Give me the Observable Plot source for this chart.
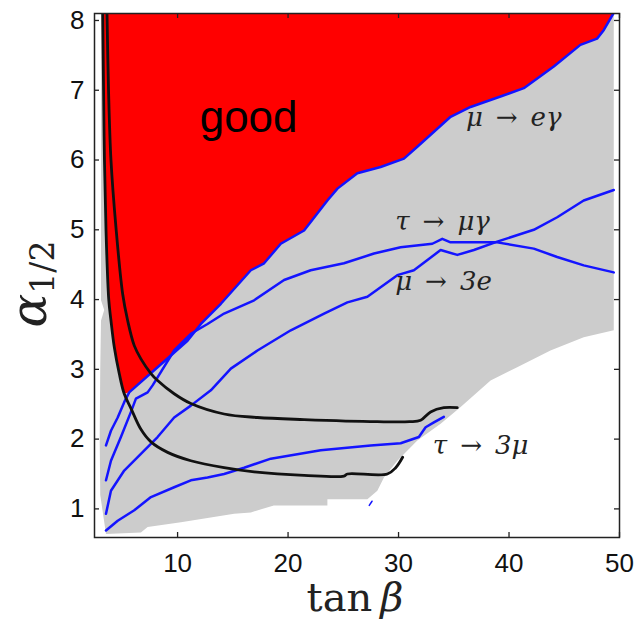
<!DOCTYPE html>
<html><head><meta charset="utf-8">
<script src="https://cdn.jsdelivr.net/npm/d3@7"></script>
<script src="https://cdn.jsdelivr.net/npm/@observablehq/plot@0.6"></script>
<style>
body{margin:0;background:#fff;}
#chart{width:636px;height:627px;}
</style>
</head><body><div id="chart"></div>
<script>
// tick values
const xTicks = [10, 20, 30, 40, 50];
const yTicks = [1, 2, 3, 4, 5, 6, 7, 8];

// [tanβ, α1/2] pairs
const muEGamma = [[3.52,1.91],[3.97,2.12],[4.58,2.31],[5.17,2.53],[5.62,2.67],[8.19,3.03],[10.90,3.41],[12.11,3.65],[13.92,3.94],[16.63,4.42],[17.83,4.52],[19.34,4.80],[21.45,4.99],[23.56,5.42],[24.47,5.59],[26.27,5.81],[28.38,5.90],[30.49,6.02],[31.70,6.19],[34.71,6.62],[36.52,6.76],[39.23,6.91],[41.34,7.03],[44.05,7.34],[46.46,7.65],[47.97,7.74],[48.57,7.86],[49.48,8.11]];
const tauMuGamma = [[3.52,1.41],[3.97,1.69],[4.87,2.03],[5.78,2.39],[6.23,2.58],[7.29,2.67],[7.74,2.77],[9.69,3.27],[11.20,3.51],[12.71,3.65],[14.21,3.80],[16.93,3.99],[19.64,4.28],[22.05,4.42],[25.06,4.52],[27.78,4.66],[30.19,4.75],[33.06,4.80],[33.96,4.87],[34.71,4.82],[38.93,4.82],[42.24,4.73],[44.36,4.61],[46.76,4.49],[49.48,4.39]];
const mu3e = [[3.52,0.93],[3.97,1.26],[5.17,1.55],[6.68,1.79],[8.19,2.03],[9.69,2.31],[11.20,2.48],[13.01,2.70],[14.82,3.01],[17.23,3.27],[20.25,3.56],[23.26,3.80],[25.37,3.96],[27.18,4.04],[29.89,4.35],[31.39,4.42],[33.81,4.71],[35.32,4.64],[36.82,4.71],[38.93,4.83],[42.24,5.00],[44.36,5.18],[46.76,5.42],[48.57,5.52],[49.48,5.57]];
const tau3mu = [[3.52,0.69],[4.58,0.83],[6.08,0.98],[7.59,1.17],[9.69,1.31],[11.20,1.41],[12.71,1.45],[14.21,1.50],[16.02,1.59],[18.44,1.72],[22.96,1.84],[27.48,1.91],[30.19,1.94],[31.84,2.03],[32.45,2.17],[33.20,2.24],[34.10,2.32]];
const tau3muBit = [[27.35,1.05],[27.6,1.11]];
const boundLow = [[3.22,8.11],[3.30,7.0],[3.38,6.0],[3.52,5.0],[3.77,4.0],[3.97,3.70],[4.27,3.32],[4.72,2.94],[5.17,2.65],[5.78,2.44],[6.68,2.14],[7.59,1.96],[9.10,1.81],[11.20,1.69],[14.21,1.59],[16.93,1.53],[21.45,1.48],[25.06,1.47],[25.37,1.50],[28.99,1.50],[29.74,1.59],[30.37,1.74]];
const boundHigh = [[3.61,8.11],[3.75,7.0],[3.97,6.00],[4.42,5.04],[5.03,4.08],[5.48,3.70],[6.08,3.34],[6.68,3.15],[7.59,2.94],[8.19,2.84],[9.69,2.65],[11.20,2.51],[14.21,2.36],[17.23,2.31],[21.45,2.28],[28.08,2.25],[31.0,2.25],[32.00,2.27],[32.90,2.39],[34.10,2.45],[35.32,2.45]];
const allowedRegion = [[3.07,8.3],[3.07,3.99],[3.36,3.85],[3.07,3.70],[3.0,3.0],[2.95,2.0],[3.0,1.2],[3.52,0.64],[6.68,0.66],[7.29,0.74],[10.30,0.81],[15.12,0.93],[16.63,0.95],[18.71,1.05],[23.56,1.05],[23.56,1.14],[27.18,1.14],[28.08,1.26],[28.68,1.45],[29.89,1.69],[31.70,1.98],[33.81,2.22],[35.62,2.46],[38.33,2.84],[40.74,3.03],[43.75,3.27],[46.76,3.46],[49.48,3.56],[49.48,8.3]];
const goodRegion = [...boundLow.filter(p => p[1] >= 2.65), ...muEGamma.filter(p => p[0] >= 5.6), [49.48,8.3], [3.22,8.3]];
const labels = [
  {x: 12.0, y: 6.61, text: "good", kind: "sans"},
  {x: 36.1, y: 6.60, text: "μ\u2002→\u2002eγ", kind: "math"},
  {x: 29.7, y: 5.11, text: "τ\u2002→\u2002μγ", kind: "math"},
  {x: 29.7, y: 4.25, text: "μ\u2002→\u20023e", kind: "math"},
  {x: 33.1, y: 1.91, text: "τ\u2002→\u20023μ", kind: "math"}
];

const W = 636, H = 627, mL = 94, mR = 17, mT = 13, mB = 90;
const innerW = W - mL - mR, innerH = H - mT - mB;
const xy = {x: d => d[0], y: d => d[1]};
const blue = "#1414ff";

const chart = Plot.plot({
  width: W, height: H,
  marginLeft: mL, marginRight: mR, marginTop: mT, marginBottom: mB,
  style: {fontFamily: "'Liberation Sans', Arial, sans-serif", fontSize: "26px", background: "white", color: "#111"},
  x: {domain: [2.48, 50]},
  y: {domain: [0.59, 8.1]},
  marks: [
    Plot.line(allowedRegion, {...xy, fill: "#cccccc", stroke: "none", clip: true}),
    Plot.line(goodRegion, {...xy, fill: "#ff0000", stroke: "none", clip: true}),
    Plot.line(muEGamma, {...xy, stroke: blue, strokeWidth: 2.5, clip: true}),
    Plot.line(tauMuGamma, {...xy, stroke: blue, strokeWidth: 2.5, clip: true}),
    Plot.line(mu3e, {...xy, stroke: blue, strokeWidth: 2.5, clip: true}),
    Plot.line(tau3mu, {...xy, stroke: blue, strokeWidth: 2.5, clip: true}),
    Plot.line(tau3muBit, {...xy, stroke: blue, strokeWidth: 1.5, clip: true}),
    Plot.line(boundLow, {...xy, curve: "catmull-rom", stroke: "#111", strokeWidth: 2.8, clip: true}),
    Plot.line(boundHigh, {...xy, curve: "catmull-rom", stroke: "#111", strokeWidth: 2.8, clip: true}),
    Plot.text(labels.filter(d => d.kind === "sans"), {x: "x", y: "y", text: "text", textAnchor: "start", fontSize: 44, fill: "black"}),
    Plot.text(labels.filter(d => d.kind === "math"), {x: "x", y: "y", text: "text", textAnchor: "start", fontSize: 26, fontStyle: "italic", fontFamily: "'DejaVu Serif', serif", fill: "#222"}),
    Plot.frame({stroke: "#222", strokeWidth: 1.5}),
    Plot.tickX(xTicks, {x: d => d, insetTop: innerH - 5, stroke: "#222", strokeWidth: 1.3}),
    Plot.tickX(xTicks, {x: d => d, insetBottom: innerH - 5, stroke: "#222", strokeWidth: 1.3}),
    Plot.tickY(yTicks, {y: d => d, insetRight: innerW - 5, stroke: "#222", strokeWidth: 1.3}),
    Plot.tickY(yTicks, {y: d => d, insetLeft: innerW - 5, stroke: "#222", strokeWidth: 1.3}),
    Plot.axisX({ticks: xTicks, tickSize: 0, tickPadding: 16, label: null, fontSize: 26}),
    Plot.axisY({ticks: yTicks, tickSize: 0, tickPadding: 10, label: null, fontSize: 26})
  ]
});
document.getElementById("chart").appendChild(chart);

// axis titles (math typeset)
const svg = d3.select(chart);
const xt = svg.append("text")
  .attr("x", 355).attr("y", 611)
  .attr("text-anchor", "middle")
  .attr("font-family", "'DejaVu Serif', serif")
  .attr("font-size", 40).attr("fill", "#222");
xt.append("tspan").text("tan\u2009");
xt.append("tspan").attr("font-style", "italic").text("β");

const yt = svg.append("text")
  .attr("transform", "translate(46,284) rotate(-90)")
  .attr("text-anchor", "middle")
  .attr("font-family", "'DejaVu Serif', serif")
  .attr("fill", "#222");
yt.append("tspan").attr("font-size", 50).attr("font-style", "italic").text("α");
yt.append("tspan").attr("font-size", 33).attr("dy", 8).text("1/2");
</script>
</body></html>
